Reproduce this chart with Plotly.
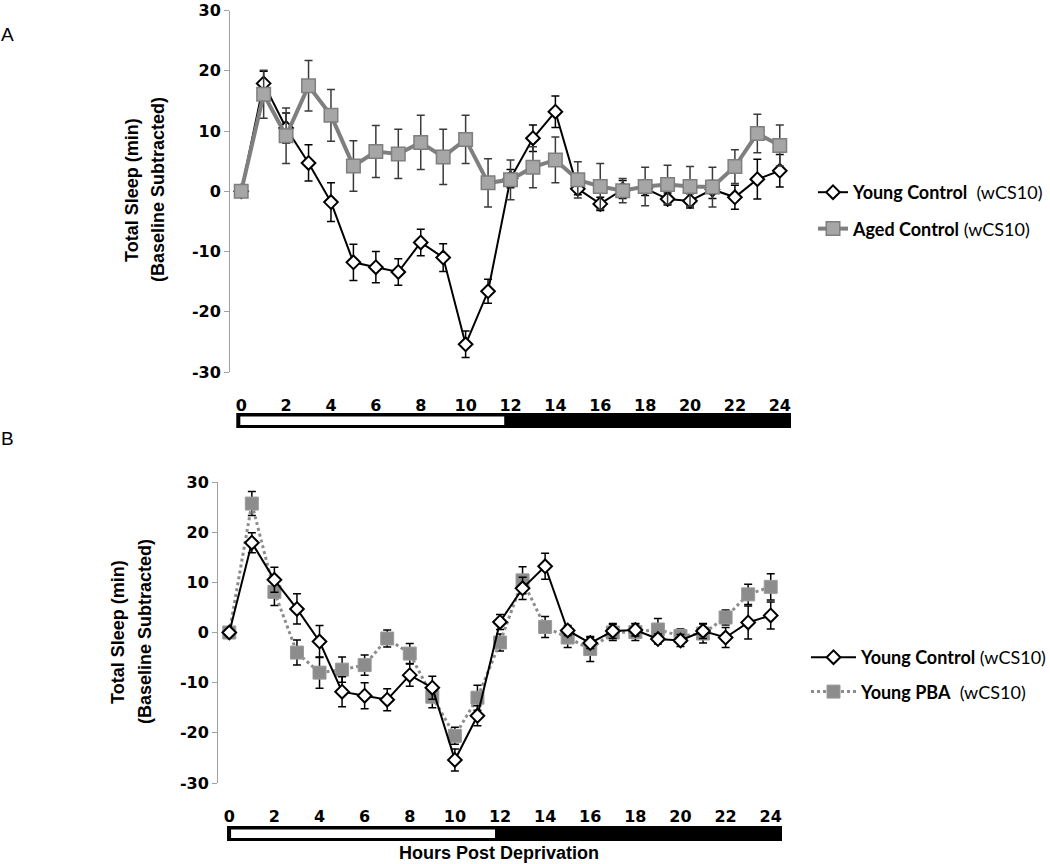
import plotly.graph_objects as go

HOURS = list(range(25))
X_TICKS = list(range(0, 25, 2))
Y_TICKS = [-30, -20, -10, 0, 10, 20, 30]
Y_TICK_TEXT = ["-30", "-20", "-10", "0", "10", "20", "30"]

young_control = [0, 17.9, 10.5, 4.7, -1.8, -11.8, -12.6, -13.4, -8.5, -11.0, -25.4, -16.6,
                 2.1, 8.8, 13.2, 0.4, -2.1, 0.3, 0.5, -1.3, -1.6, 0.3, -1.0, 2.0, 3.4]
young_control_err = [0, 2.0, 2.5, 3.0, 3.2, 3.0, 2.6, 2.2, 2.2, 2.3, 2.2, 2.0,
                     1.5, 2.2, 2.6, 1.0, 1.1, 1.5, 1.2, 1.0, 1.2, 1.5, 2.0, 3.3, 2.7]

aged_control = [0, 16.1, 9.2, 17.5, 12.6, 4.2, 6.6, 6.2, 8.1, 5.7, 8.6, 1.4,
                1.9, 4.0, 5.2, 1.9, 0.8, 0.1, 0.8, 1.1, 0.8, 0.7, 4.1, 9.6, 7.6]
aged_control_err = [0, 4.0, 4.6, 4.2, 4.3, 4.2, 4.3, 4.1, 4.5, 4.6, 4.0, 4.0,
                    3.3, 3.4, 3.8, 3.0, 3.8, 2.0, 3.2, 3.2, 3.3, 3.3, 2.8, 3.2, 3.4]

young_pba = [0, 25.7, 8.1, -4.0, -8.0, -7.4, -6.5, -1.2, -4.2, -12.8, -20.6, -13.0,
             -2.0, 10.4, 1.1, -1.0, -3.3, 0.0, 0.1, 0.6, -0.7, -0.2, 3.0, 7.6, 9.1]
young_pba_err = [0, 2.4, 2.7, 2.5, 3.1, 2.5, 2.0, 1.7, 2.0, 2.2, 1.7, 2.5,
                 1.7, 2.7, 2.1, 2.0, 2.5, 1.6, 1.7, 2.2, 1.4, 1.9, 1.5, 2.0, 2.6]

LIGHT_PHASE = (0, 12)
DARK_PHASE = (12, 24)

W, H = 1050, 864
def px(x):
    return x / W
def py(y):
    return 1 - y / H

TICKFONT = dict(family="DejaVu Sans", size=16, color="black", weight="bold")
LEGFONT = dict(family="Lato", size=18, color="black")

fig = go.Figure()

yc_style = dict(mode="lines+markers",
                line=dict(color="black", width=2),
                marker=dict(symbol="diamond", size=10.5, color="white",
                            line=dict(color="black", width=2)))

# Panel A
fig.add_trace(go.Scatter(x=HOURS, y=young_control, name="<b>Young Control</b>  (wCS10)",
                         error_y=dict(type="data", array=young_control_err, color="black",
                                      thickness=1.5, width=4),
                         xaxis="x", yaxis="y", legend="legend", legendgroup="a1", **yc_style))
fig.add_trace(go.Scatter(x=HOURS, y=aged_control, name="<b>Aged Control</b> (wCS10)",
                         mode="lines+markers",
                         line=dict(color="#7f7f7f", width=4),
                         marker=dict(symbol="square", size=13.5, color="#a6a6a6",
                                     line=dict(color="#7f7f7f", width=1.5)),
                         error_y=dict(type="data", array=aged_control_err, color="#3a3a3a",
                                      thickness=1.5, width=4),
                         xaxis="x", yaxis="y", legend="legend", legendgroup="a2"))

# Panel B
fig.add_trace(go.Scatter(x=HOURS, y=young_pba, name="<b>Young PBA</b>  (wCS10)",
                         mode="lines+markers",
                         line=dict(color="#8c8c8c", width=3, dash="dot"),
                         marker=dict(symbol="square", size=13, color="#8c8c8c",
                                     line=dict(color="#9a9a9a", width=1)),
                         error_y=dict(type="data", array=young_pba_err, color="black",
                                      thickness=1.5, width=4),
                         xaxis="x2", yaxis="y2", legend="legend2", legendgroup="b2",
                         legendrank=2))
fig.add_trace(go.Scatter(x=HOURS, y=young_control, name="<b>Young Control</b> (wCS10)",
                         error_y=dict(type="data", array=young_control_err, color="black",
                                      thickness=1.5, width=4),
                         xaxis="x2", yaxis="y2", legend="legend2", legendgroup="b1",
                         legendrank=1, **yc_style))

XR = [-0.5, 24.5]
domA_x = [px(230), px(791)]
domA_y = [py(372), py(10.5)]
domB_x = [px(218), px(782)]
domB_y = [py(783), py(482)]

def xaxis_labels(domain, anchor):
    return dict(domain=domain, range=XR, anchor=anchor, tickmode="array",
                tickvals=X_TICKS, ticktext=[str(t) for t in X_TICKS],
                showline=False, showgrid=False, zeroline=False, ticks="",
                tickfont=TICKFONT, ticklabelstandoff=22, automargin=False,
                ticklabeloverflow="allow")

def yaxis_def(domain, anchor):
    return dict(domain=domain, range=[-30, 30], anchor=anchor, tickmode="array",
                tickvals=Y_TICKS, ticktext=Y_TICK_TEXT, showline=True,
                linecolor="#a0a0a0", linewidth=1,
                ticks="outside", ticklen=5, tickcolor="#a0a0a0", showgrid=False,
                zeroline=False, tickfont=TICKFONT, automargin=False,
                ticklabeloverflow="allow")

def zero_axis(overlay, pos):
    return dict(overlaying=overlay, matches=overlay, anchor="free", position=pos,
                range=XR, tickmode="array", tickvals=[h + 0.5 for h in HOURS],
                showticklabels=False, showline=True, linecolor="#a0a0a0", linewidth=1,
                ticks="outside", ticklen=5, tickcolor="#a0a0a0", showgrid=False,
                zeroline=False, automargin=False)

fig.update_layout(
    width=W, height=H, margin=dict(l=0, r=0, t=0, b=0, autoexpand=False),
    paper_bgcolor="white", plot_bgcolor="white",
    xaxis=xaxis_labels(domA_x, "y"),
    yaxis=yaxis_def(domA_y, "x"),
    xaxis2=xaxis_labels(domB_x, "y2"),
    yaxis2=yaxis_def(domB_y, "x2"),
    xaxis3=zero_axis("x", (domA_y[0] + domA_y[1]) / 2),
    xaxis4=zero_axis("x2", (domB_y[0] + domB_y[1]) / 2),
    legend=dict(x=px(813), y=py(174), xanchor="left", yanchor="top",
                font=LEGFONT, tracegroupgap=10, bgcolor="rgba(0,0,0,0)"),
    legend2=dict(x=px(806), y=py(639), xanchor="left", yanchor="top",
                 font=LEGFONT, tracegroupgap=8, itemwidth=45, bgcolor="rgba(0,0,0,0)"),
    showlegend=True,
)

# Light/dark bars under the x axes
def phase_bar(xref, y0, y1, x0, x1, light_end):
    return [
        dict(type="rect", xref=xref, yref="paper", x0=x0, x1=x1, y0=py(y1), y1=py(y0),
             fillcolor="black", line=dict(width=0), layer="above"),
        dict(type="rect", xref=xref, yref="paper", x0=x0 + 0.18, x1=light_end,
             y0=py(y1 - 3), y1=py(y0 + 3.5), fillcolor="white", line=dict(width=0),
             layer="above"),
    ]

shapes = []
shapes += phase_bar("x", 413, 428, LIGHT_PHASE[0] - 0.22, DARK_PHASE[1] + 0.73,
                    LIGHT_PHASE[1] - 0.28)
shapes += phase_bar("x2", 826, 841, LIGHT_PHASE[0] - 0.1, DARK_PHASE[1] + 0.67,
                    LIGHT_PHASE[1] - 0.22)
fig.update_layout(shapes=shapes)

ann = []
ann.append(dict(text="A", x=px(7), y=py(34), xref="paper", yref="paper", showarrow=False,
                xanchor="center", yanchor="middle",
                font=dict(family="Liberation Sans", size=19, color="black")))
ann.append(dict(text="B", x=px(7), y=py(438), xref="paper", yref="paper", showarrow=False,
                xanchor="center", yanchor="middle",
                font=dict(family="Liberation Sans", size=19, color="black")))
TITLEFONT = dict(family="Liberation Sans", size=18, color="black", weight="bold")
for (xl, yl, txt) in [(132, 190, "Total Sleep (min)"), (158, 190, "(Baseline Subtracted)"),
                      (118, 632, "Total Sleep (min)"), (145, 632, "(Baseline Subtracted)")]:
    ann.append(dict(text=txt, x=px(xl), y=py(yl), xref="paper", yref="paper",
                    xanchor="center", yanchor="middle",
                    showarrow=False, textangle=-90, font=TITLEFONT))
ann.append(dict(text="Hours Post Deprivation", x=px(499), y=py(853), xref="paper",
                yref="paper", showarrow=False, xanchor="center", yanchor="middle",
                font=dict(family="Liberation Sans", size=18, color="black", weight="bold")))
fig.update_layout(annotations=ann)

fig.write_html("out.html", config={"displayModeBar": False},
               post_script="document.body.style.margin='0px';"
                           "document.body.style.overflow='hidden';")
